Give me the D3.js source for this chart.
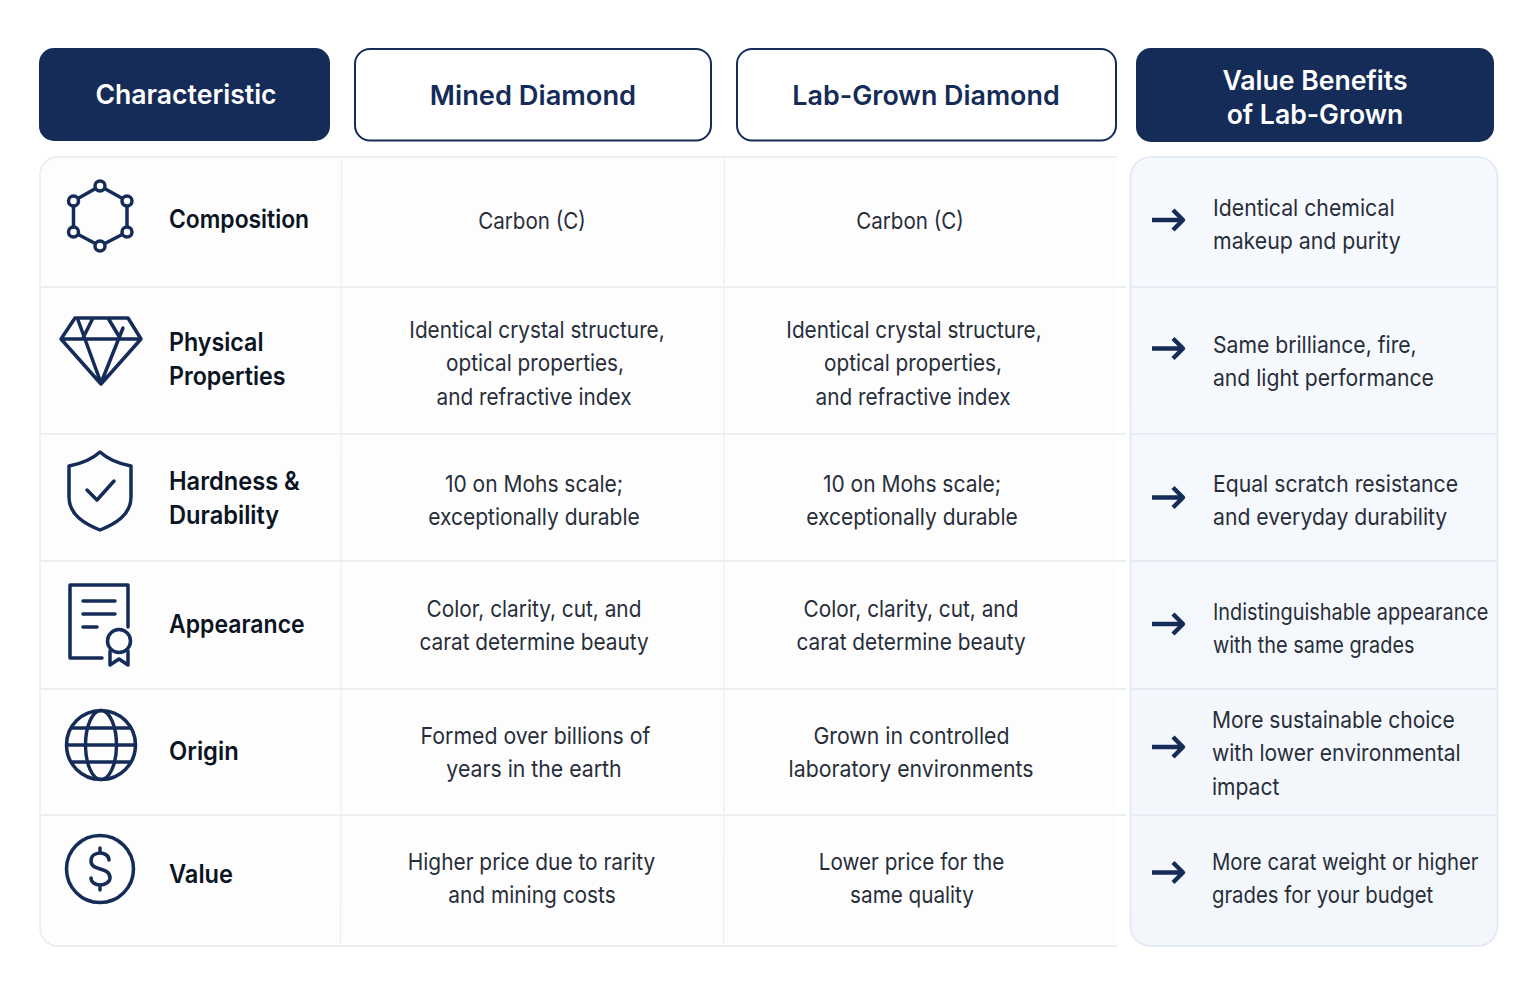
<!DOCTYPE html>
<html><head><meta charset="utf-8">
<script src="https://cdn.jsdelivr.net/npm/d3@7/dist/d3.min.js"></script>
<style>html,body{margin:0;padding:0;background:#fff}svg{display:block}text{font-family:Inter,"Noto Sans",sans-serif}</style>
</head><body><svg id="c" width="1536" height="992"></svg>
<script>
const headers = [["Characteristic"],["Mined Diamond"],["Lab-Grown Diamond"],["Value Benefits","of Lab-Grown"]];
const characteristics = [["Composition"],["Physical","Properties"],["Hardness &","Durability"],["Appearance"],["Origin"],["Value"]];
const mined = [["Carbon (C)"],["Identical crystal structure,","optical properties,","and refractive index"],["10 on Mohs scale;","exceptionally durable"],["Color, clarity, cut, and","carat determine beauty"],["Formed over billions of","years in the earth"],["Higher price due to rarity","and mining costs"]];
const labGrown = [["Carbon (C)"],["Identical crystal structure,","optical properties,","and refractive index"],["10 on Mohs scale;","exceptionally durable"],["Color, clarity, cut, and","carat determine beauty"],["Grown in controlled","laboratory environments"],["Lower price for the","same quality"]];
const benefits = [["Identical chemical","makeup and purity"],["Same brilliance, fire,","and light performance"],["Equal scratch resistance","and everyday durability"],["Indistinguishable appearance","with the same grades"],["More sustainable choice","with lower environmental","impact"],["More carat weight or higher","grades for your budget"]];
const icons = ["hexagon","diamond","shield","certificate","globe","dollar"];

const NAVY="#142c57", INK="#0b1422", BODY="#282e39", LINE="#e8eaee";
const svg=d3.select("#c");
const rowEdges=[157,287,434,561,689,815,946];
const rowIdx=d3.range(6);
const rowTop=d3.scaleOrdinal().domain(rowIdx).range(rowEdges.slice(0,6));
const lh=33.6;
const defs=svg.append("defs");
const lg=defs.append("linearGradient").attr("id","pan").attr("x1",0).attr("y1",0).attr("x2",0).attr("y2",1);
lg.append("stop").attr("offset",0).attr("stop-color","#f6f9fd");lg.append("stop").attr("offset",1).attr("stop-color","#f3f7fc");

svg.append("path").attr("d","M1117 157H58a18 18 0 0 0-18 18V928a18 18 0 0 0 18 18H1117").attr("fill","#fdfdfe").attr("stroke",LINE).attr("stroke-width",1.4);
svg.append("rect").attr("x",1130.5).attr("y",157).attr("width",367).attr("height",789).attr("rx",20).attr("fill","url(#pan)").attr("stroke","#e1e8f2").attr("stroke-width",1.6);
svg.selectAll("line.r").data(rowIdx.slice(1)).join("line").attr("class","r").attr("x1",41).attr("x2",1126)
 .attr("y1",d=>rowTop(d)).attr("y2",d=>rowTop(d)).attr("stroke",LINE).attr("stroke-width",1.3);
svg.selectAll("line.b").data(rowIdx.slice(1)).join("line").attr("class","b").attr("x1",1131).attr("x2",1497)
 .attr("y1",d=>rowTop(d)).attr("y2",d=>rowTop(d)).attr("stroke","#e2e8f2").attr("stroke-width",1.3);
[341.5,724.5].forEach(x=>svg.append("line").attr("x1",x).attr("x2",x-1).attr("y1",157).attr("y2",946).attr("stroke","#eef0f3").attr("stroke-width",1.3));

const hb=[{x:39,y:48,w:291,h:93,fill:true,cx:186,ty:94,f:.985},{x:355,y:49,w:356,h:91.5,fill:false,cx:533,ty:95,f:1.01},{x:737,y:49,w:379,h:91.5,fill:false,cx:926,ty:95,f:.995},{x:1136,y:48,w:358,h:94,fill:true,cx:1315,ty:96.5,f:.985}];
const hg=svg.selectAll("g.h").data(headers).join("g").attr("class","h");
hg.append("rect").attr("x",(d,i)=>hb[i].x).attr("y",(d,i)=>hb[i].y).attr("width",(d,i)=>hb[i].w).attr("height",(d,i)=>hb[i].h).attr("rx",15)
 .attr("fill",(d,i)=>hb[i].fill?NAVY:"#fff").attr("stroke",(d,i)=>hb[i].fill?"none":NAVY).attr("stroke-width",2);
hg.each(function(d,i){
  const b=hb[i];
  d3.select(this).selectAll("text").data(d).join("text")
   .attr("transform",(t,k)=>`translate(${b.cx},${b.ty+10+(k-(d.length-1)/2)*34}) scale(${b.f},1)`)
   .attr("text-anchor","middle").attr("font-size",27).attr("font-weight",600).attr("fill",b.fill?"#fff":NAVY).text(t=>t);
});

function block(data,o){
  data.forEach((lines,r)=>lines.forEach((t,k)=>{
    svg.append("text").attr("transform",`translate(${o.x(r,k)},${o.y(r)+9+k*lh}) scale(${o.f(r)},1)`)
      .attr("text-anchor",o.anchor).attr("font-size",o.size).attr("font-weight",o.weight).attr("fill",o.fill).text(t);
  }));
}
const labelF=[.915,.93,.945,.92,.95,.945];
block(characteristics,{x:()=>169,y:r=>[219,342,481,624,751,874][r],f:r=>labelF[r],anchor:"start",size:25,weight:600,fill:INK});
const yMid=[219.5,328.5,482.5,607.5,734.8,860.8];
const mx=[[532],[537,535,534],[534,534],[534,534],[535.5,534],[531.5,532]];
const lx=[[910],[914,913,913],[912,912],[911,911],[911.5,911],[911.5,912]];
const minedF=[.876,.884,.893,.886,.905,.888], labF=[.876,.884,.893,.886,.905,.88], benF=[.905,.9,.902,.845,.895,.865];
block(mined,{x:(r,k)=>mx[r][k],y:r=>yMid[r],f:r=>minedF[r],anchor:"middle",size:23.5,weight:400,fill:BODY});
block(labGrown,{x:(r,k)=>lx[r][k],y:r=>yMid[r],f:r=>labF[r],anchor:"middle",size:23.5,weight:400,fill:BODY});
block(benefits,{x:r=>r<4?1213:1212,y:r=>[206.7,343.7,482.7,610.5,718.7,860.7][r],f:r=>benF[r],anchor:"start",size:23.5,weight:400,fill:BODY});

const arrowY=[220,348.5,497.5,624,747,872.5];
svg.selectAll("path.a").data(arrowY).join("path").attr("class","a")
 .attr("transform",d=>`translate(1151,${d})`).attr("d","M1 0H31M22-10L32 0L22 10")
 .attr("fill","none").attr("stroke",NAVY).attr("stroke-width",4.4).attr("stroke-linejoin","round");

const S={fill:"none",stroke:NAVY,"stroke-width":3.5,"stroke-linejoin":"round","stroke-linecap":"round"};
function ic(g,tag,attrs){const e=g.append(tag);Object.entries({...S,...attrs}).forEach(([k,v])=>e.attr(k,v));return e;}
const iconDraw={
 hexagon(g){const p=[[100,186],[127,201],[127,232],[100,246],[73.5,232],[73.5,201]];
  ic(g,"path",{d:"M"+p.join("L")+"Z"});p.forEach(q=>ic(g,"circle",{cx:q[0],cy:q[1],r:5,fill:"#fdfdfe"}));},
 diamond(g){ic(g,"path",{d:"M75 318H128L141 339L101 384L61 339Z M61 339H141 M78 320L101 383 M123 328L101 383 M93 318L83 338 M108 318L120 338"});},
 shield(g){ic(g,"path",{d:"M100 452C90 461 80 464 69 466V497C69 515 85 524 100 530C115 524 131 515 131 497V466C120 464 110 461 100 452Z"});
  ic(g,"path",{d:"M87 490L97 500L114 481"});},
 certificate(g){ic(g,"path",{d:"M102 658H70V585H128V627"});
  ic(g,"path",{d:"M83 601H115M83 614H115M83 627H97"});
  ic(g,"circle",{cx:119,cy:641,r:11.5});
  ic(g,"path",{d:"M110 651V665L119 659L128 665V651"});},
 globe(g){ic(g,"circle",{cx:101,cy:745,r:34.5});ic(g,"ellipse",{cx:101,cy:745,rx:15.5,ry:34.5});
  ic(g,"path",{d:"M72 728H130M67 745H135M72 762H130"});},
 dollar(g){ic(g,"circle",{cx:100,cy:869,r:33.5});
  ic(g,"path",{d:"M109 860C109 856 105 853 100 853C95 853 91 856 91 861C91 872 110 866 110 878C110 882 105 885 100 885C95 885 91 882 91 878M100 848V853M100 885V890"});}
};
icons.forEach(n=>iconDraw[n](svg.append("g").attr("class","icon-"+n)));
</script></body></html>
